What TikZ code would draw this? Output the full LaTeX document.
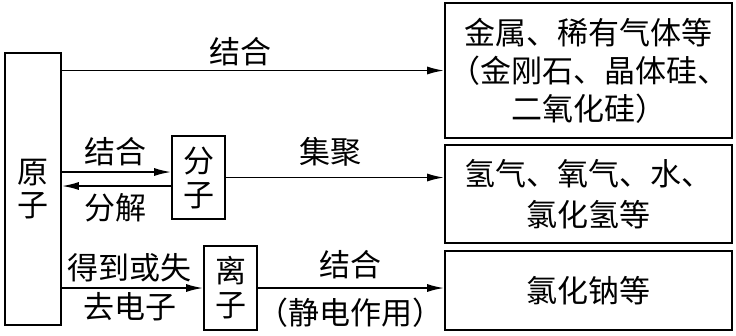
\documentclass[tikz,border=0pt]{standalone}
\usepackage{fontspec}
\setmainfont{Noto Sans CJK SC}
\usetikzlibrary{arrows.meta}
\begin{document}
\begin{tikzpicture}[x=1pt,y=-1pt,
  box/.style={draw,line width=1.6pt,inner sep=0pt,align=center,font=\fontsize{31}{38}\selectfont},
  lbl/.style={inner sep=0pt,font=\fontsize{31}{36}\selectfont},
  arr/.style={line width=1.8pt,-{Latex[length=17pt,width=8pt]}}]
\useasboundingbox (0,0) rectangle (736,335);
\node[box,minimum width=56pt,minimum height=272pt] (yz) at (33,189) {原\\[-5pt]子};
\node[box,minimum width=53pt,minimum height=83pt] (fz) at (198.5,177.5) {分\\[-4pt]子};
\node[box,minimum width=53pt,minimum height=84pt] (lz) at (230.5,288) {离\\[-4pt]子};
\node[box,minimum width=287pt,minimum height=135pt] (b1) at (588.5,70.5) {金属、稀有气体等\\（金刚石、晶体硅、\\二氧化硅）};
\node[box,minimum width=287pt,minimum height=98pt,font=\fontsize{31}{41}\selectfont] (b2) at (588.5,194) {氢气、氧气、水、\\氯化氢等};
\node[box,minimum width=287pt,minimum height=79pt] (b3) at (588.5,290.5) {氯化钠等};
\draw[arr] (yz.east |- b1.west) -- (b1.west);
\draw[arr] ([yshift=5.5pt]yz.east |- fz.west) -- ([yshift=5.5pt]fz.west);
\draw[arr] ([yshift=-8.5pt]fz.west) -- ([yshift=-8.5pt]yz.east |- fz.west);
\draw[arr] (fz.east) -- (fz.east -| b2.west);
\draw[arr] (yz.east |- lz.west) -- (lz.west);
\draw[arr] (lz.east) -- (lz.east -| b3.west);
\node[lbl] (t1) at (240,52) {结合};
\node[lbl] (t2) at (115,152) {结合};
\node[lbl] (t3) at (115,208) {分解};
\node[lbl] (t4) at (330,152) {集聚};
\node[lbl] (t5) at (129,268) {得到或失};
\node[lbl] (t6) at (130,307) {去电子};
\node[lbl] (t7) at (350,265) {结合};
\node[lbl] (t8) at (350,313) {（静电作用）};
\end{tikzpicture}
\end{document}
